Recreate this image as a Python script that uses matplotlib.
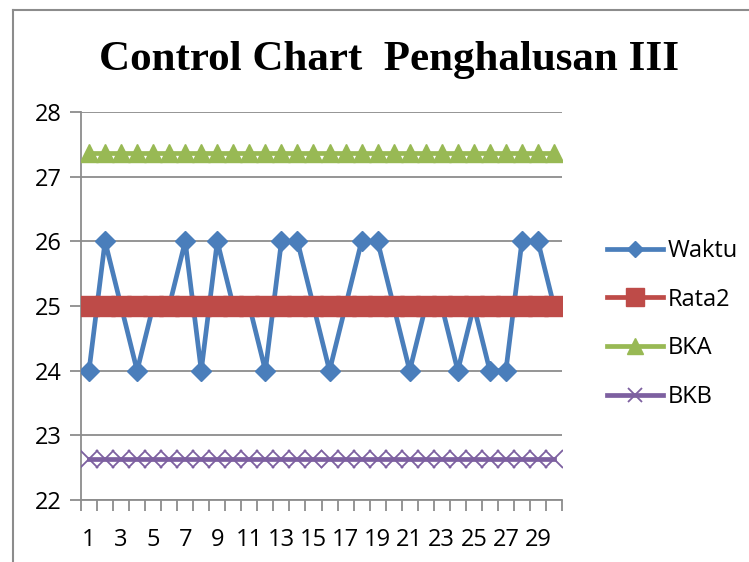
import matplotlib
matplotlib.use("Agg")
import matplotlib.pyplot as plt
from matplotlib.lines import Line2D

# data
sampel = list(range(1, 31))
waktu = [24, 26, 25, 24, 25, 25, 26, 24, 26, 25,
         25, 24, 26, 26, 25, 24, 25, 26, 26, 25,
         24, 25, 25, 24, 25, 24, 24, 26, 26, 25]
rata2 = [25] * 30
bka = [27.36] * 30
bkb = [22.64] * 30
yticks = [22, 23, 24, 25, 26, 27, 28]
xlabels = [str(i) if i % 2 == 1 else "" for i in sampel]

plt.rcParams["font.family"] = ["Open Sans", "DejaVu Sans"]

fig = plt.figure(figsize=(7.49, 5.62), dpi=100)
ax = fig.add_axes([81 / 749, 1 - 500 / 562, 481 / 749, 388 / 562])

ax.plot(sampel, waktu, color="#4A7EBB", lw=3.4, marker="D", ms=10,
        mec="#4A7EBB", mfc="#4A7EBB", label="Waktu", zorder=3)
ax.plot(sampel, rata2, color="#BE4B48", lw=3.4, marker="s", ms=14.5,
        mec="#BE4B48", mfc="#BE4B48", label="Rata2", zorder=4)
ax.plot(sampel, bka, color="#98B954", lw=3.4, marker="^", ms=13,
        mec="#98B954", mfc="#98B954", label="BKA", zorder=4)
ax.plot(sampel, bkb, color="#7D60A0", lw=3.4, marker="x", ms=12.5, mew=1.3,
        mec="#7D60A0", label="BKB", zorder=4)

ax.set_xlim(0.5, 30.5)
ax.set_ylim(22, 28)
ax.set_yticks(yticks)
ax.yaxis.grid(True, color="#8C8C8C", lw=1.3)
ax.set_axisbelow(True)

# category labels centred, tick marks between categories
ax.set_xticks(sampel)
ax.set_xticklabels(xlabels)
ax.set_xticks([i + 0.5 for i in range(0, 31)], minor=True)
ax.tick_params(axis="x", which="major", length=0, pad=20, labelsize=17)
ax.tick_params(axis="x", which="minor", length=8, width=1.3, color="#8C8C8C")
ax.tick_params(axis="y", length=8, width=1.3, color="#8C8C8C", pad=6, labelsize=17)

for s in ["top", "right"]:
    ax.spines[s].set_visible(False)
for s in ["left", "bottom"]:
    ax.spines[s].set_color("#8C8C8C")
    ax.spines[s].set_linewidth(1.3)

fig.text(389 / 749, 1 - 70 / 562, "Control Chart  Penghalusan III",
         family="Liberation Serif", weight="bold", size=31,
         ha="center", va="baseline")

leg = fig.legend(loc="center left", bbox_to_anchor=(586 / 749, 1 - 324 / 562),
                 frameon=False, fontsize=17, handlelength=2.35,
                 handletextpad=0.2, labelspacing=1.04, markerscale=0.85)

# outer chart frame
fig.add_artist(Line2D([13 / 749, 13 / 749], [0, 1 - 10 / 562],
                      transform=fig.transFigure, color="#8C8C8C", lw=1.5))
fig.add_artist(Line2D([13 / 749, 1], [1 - 10 / 562, 1 - 10 / 562],
                      transform=fig.transFigure, color="#8C8C8C", lw=1.5))

fig.savefig("out.png", dpi=100)
